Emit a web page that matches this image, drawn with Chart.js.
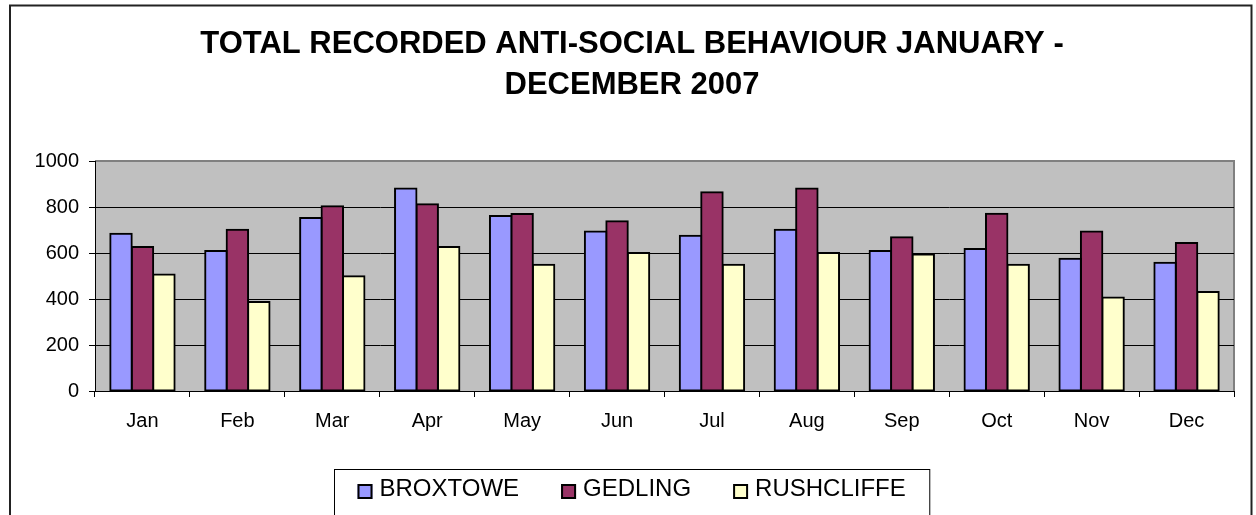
<!DOCTYPE html>
<html lang="en">
<head>
    <meta charset="UTF-8">
    <title>Total recorded anti-social behaviour 2007</title>
    <script src="https://cdn.jsdelivr.net/npm/chart.js"></script>
    <style>
        html, body { margin: 0; padding: 0; background: #fff; overflow: hidden; }
        #wrap { position: relative; width: 1256px; height: 540px; }
    </style>
</head>
<body>
    <div id="wrap">
        <canvas id="asbChart" width="1256" height="540"></canvas>
    </div>

    <script>
        // monthly totals per district
        const months = ['Jan', 'Feb', 'Mar', 'Apr', 'May', 'Jun', 'Jul', 'Aug', 'Sep', 'Oct', 'Nov', 'Dec'];
        const seriesNames = ['BROXTOWE', 'GEDLING', 'RUSHCLIFFE'];
        const broxtowe = [684, 609, 752, 880, 761, 694, 675, 701, 609, 617, 575, 558];
        const gedling = [626, 701, 803, 812, 770, 738, 864, 880, 668, 771, 694, 643];
        const rushcliffe = [506, 387, 499, 626, 549, 600, 549, 600, 593, 549, 406, 430];
        const yTicks = [0, 200, 400, 600, 800, 1000];

        const seriesColors = ['#9999FF', '#993366', '#FFFFCC'];
        const FONT = '"Liberation Sans", Arial, sans-serif';

        // grey plot area, grey top/right edge
        const plotBackground = {
            id: 'plotBackground',
            beforeDraw(chart) {
                const { ctx, chartArea: a } = chart;
                ctx.save();
                ctx.fillStyle = '#C0C0C0';
                ctx.fillRect(a.left, a.top, a.right - a.left, a.bottom - a.top);
                ctx.strokeStyle = '#808080';
                ctx.lineWidth = 2;
                ctx.beginPath();
                ctx.moveTo(a.left, a.top);
                ctx.lineTo(a.right, a.top);
                ctx.lineTo(a.right, a.bottom);
                ctx.stroke();
                ctx.restore();
            }
        };

        // outer frame and boxed legend
        const frameAndLegend = {
            id: 'frameAndLegend',
            afterDraw(chart) {
                const ctx = chart.ctx;
                ctx.save();
                ctx.strokeStyle = '#222';
                ctx.lineWidth = 2;
                ctx.strokeRect(10, 5.5, 1241.5, 600);

                ctx.font = '24px ' + FONT;
                const sw = 15, gap = 7, itemGap = 42, padL = 23, padR = 24;
                const widths = seriesNames.map(n => ctx.measureText(n).width);
                let total = padL + padR + itemGap * (seriesNames.length - 1);
                widths.forEach(w => { total += sw + gap + w; });
                const cx = (chart.titleBlock.left + chart.titleBlock.right) / 2;
                const left = Math.round(cx - total / 2) + 0.5;

                ctx.strokeStyle = '#000';
                ctx.lineWidth = 1;
                ctx.strokeRect(left, 469.5, total, 120);

                let x = left + padL;
                ctx.textBaseline = 'middle';
                seriesNames.forEach((name, i) => {
                    ctx.fillStyle = seriesColors[i];
                    ctx.fillRect(x, 484, sw, sw);
                    ctx.strokeStyle = '#000';
                    ctx.lineWidth = 2;
                    ctx.strokeRect(x + 1, 485, sw - 2, sw - 2);
                    ctx.fillStyle = '#000';
                    ctx.fillText(name, x + sw + gap, 489);
                    x += sw + gap + widths[i] + itemGap;
                });
                ctx.restore();
            }
        };

        function renderChart() {
            const values = [broxtowe, gedling, rushcliffe];
            // 2px outline pushed half outwards so neighbouring bars share one edge
            const datasets = seriesNames.map((name, i) => ({
                label: name,
                data: values[i],
                backgroundColor: seriesColors[i],
                borderColor: '#000',
                borderWidth: 2,
                borderSkipped: false,
                inflateAmount: 1,
                categoryPercentage: 0.678,
                barPercentage: 1
            }));

            new Chart(document.getElementById('asbChart'), {
                type: 'bar',
                data: { labels: months, datasets: datasets },
                options: {
                    responsive: false,
                    animation: false,
                    layout: { padding: { left: 30, right: 22, top: 0, bottom: 109 } },
                    plugins: {
                        legend: { display: false },
                        tooltip: { enabled: false },
                        title: {
                            display: true,
                            text: ['TOTAL RECORDED ANTI-SOCIAL BEHAVIOUR JANUARY -', 'DECEMBER 2007'],
                            color: '#000',
                            font: { family: FONT, size: 31, weight: 'bold', lineHeight: 41 / 31 },
                            padding: { top: 24, bottom: 55 }
                        }
                    },
                    scales: {
                        x: {
                            grid: {
                                offset: true,
                                drawOnChartArea: false,
                                tickLength: 6,
                                color: '#000'
                            },
                            border: { color: '#000', width: 1 },
                            ticks: { color: '#000', padding: 12, font: { family: FONT, size: 20 } },
                            afterFit(scale) { scale.height = 40; }
                        },
                        y: {
                            min: 0,
                            max: 1000,
                            afterBuildTicks(scale) {
                                scale.ticks = yTicks.map(v => ({ value: v }));
                            },
                            grid: {
                                color: c => (c.tick && c.tick.value === 1000 ? '#808080' : '#000'),
                                tickColor: '#000',
                                tickLength: 6
                            },
                            border: { color: '#000', width: 1 },
                            ticks: {
                                color: '#000',
                                padding: 10,
                                font: { family: FONT, size: 20 },
                                callback: v => String(v)
                            },
                            afterFit(scale) { scale.width = 65; }
                        }
                    }
                },
                plugins: [plotBackground, frameAndLegend]
            });
        }

        window.addEventListener('load', renderChart);
    </script>
</body>
</html>
